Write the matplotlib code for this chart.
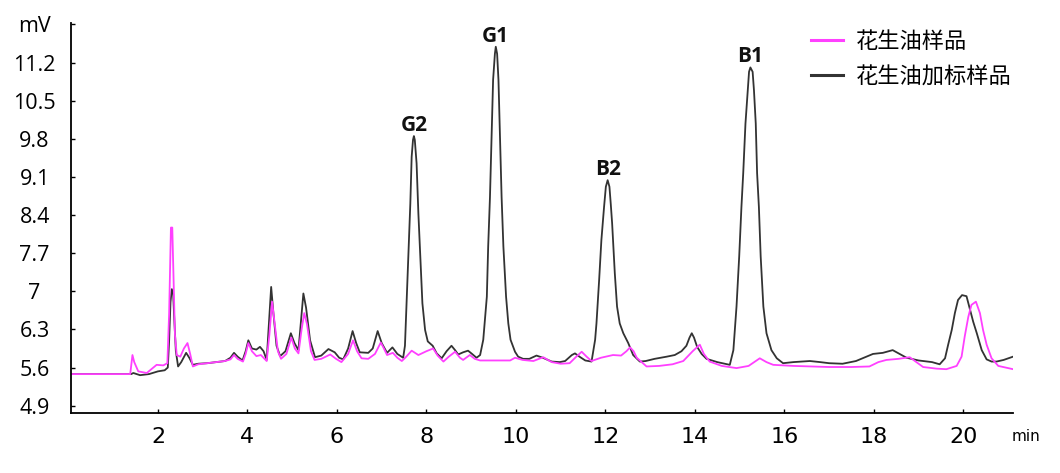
import numpy as np
import matplotlib
matplotlib.use("Agg")
import matplotlib.pyplot as plt

# retention time (min) / signal (mV)
spiked_t = [0.05, 1.40, 1.45, 1.60, 1.80, 2.00, 2.15, 2.22, 2.25, 2.28, 2.31, 2.34, 2.37, 2.40,
            2.45, 2.52, 2.63, 2.70, 2.78, 2.90, 3.10, 3.30, 3.50, 3.62, 3.70, 3.78, 3.89, 3.96,
            4.02, 4.10, 4.20, 4.28, 4.36, 4.43, 4.48, 4.53, 4.58, 4.65, 4.73, 4.85, 4.97, 5.05,
            5.14, 5.20, 5.25, 5.31, 5.40, 5.51, 5.65, 5.81, 5.95, 6.05, 6.14, 6.25, 6.35, 6.43,
            6.51, 6.70, 6.80, 6.91, 7.00, 7.12, 7.24, 7.35, 7.48, 7.52, 7.56, 7.59, 7.64, 7.67,
            7.70, 7.72, 7.74, 7.78, 7.82, 7.87, 7.91, 7.97, 8.03, 8.14, 8.23, 8.34, 8.45, 8.56,
            8.64, 8.71, 8.82, 8.93, 9.02, 9.12, 9.20, 9.27, 9.35, 9.38, 9.42, 9.46, 9.49, 9.53,
            9.55, 9.58, 9.61, 9.64, 9.68, 9.72, 9.78, 9.83, 9.88, 9.98, 10.05, 10.16, 10.30,
            10.46, 10.60, 10.80, 10.98, 11.10, 11.25, 11.32, 11.42, 11.55, 11.69, 11.77, 11.80,
            11.86, 11.91, 11.97, 12.01, 12.05, 12.09, 12.12, 12.15, 12.21, 12.26, 12.32, 12.40,
            12.51, 12.62, 12.77, 12.90, 13.10, 13.37, 13.55, 13.70, 13.81, 13.88, 13.93, 13.98,
            14.05, 14.15, 14.26, 14.50, 14.78, 14.86, 14.93, 14.99, 15.04, 15.08, 15.13, 15.18,
            15.21, 15.24, 15.29, 15.32, 15.36, 15.39, 15.43, 15.47, 15.53, 15.60, 15.71, 15.83,
            15.97, 16.20, 16.57, 16.80, 17.00, 17.30, 17.60, 17.98, 18.20, 18.42, 18.60, 18.73,
            19.00, 19.30, 19.47, 19.59, 19.66, 19.74, 19.81, 19.88, 19.97, 20.07, 20.14, 20.22,
            20.30, 20.41, 20.52, 20.63, 20.74, 20.90, 21.11]
spiked_mv = [5.48, 5.48, 5.50, 5.46, 5.48, 5.53, 5.55, 5.60, 6.10, 6.80, 7.04, 6.95, 6.40, 5.90,
             5.62, 5.70, 5.87, 5.78, 5.65, 5.67, 5.68, 5.70, 5.72, 5.78, 5.87, 5.80, 5.73, 5.90,
             6.10, 5.95, 5.93, 5.98, 5.90, 5.74, 6.40, 7.08, 6.60, 6.00, 5.81, 5.90, 6.23, 6.05,
             5.92, 6.50, 6.96, 6.70, 6.10, 5.79, 5.82, 5.94, 5.88, 5.78, 5.75, 5.95, 6.27, 6.05,
             5.88, 5.87, 5.95, 6.27, 6.05, 5.87, 5.97, 5.85, 5.78, 6.00, 6.90, 7.52, 8.61, 9.47,
             9.78, 9.85, 9.78, 9.35, 8.43, 7.51, 6.78, 6.29, 6.08, 6.00, 5.86, 5.77, 5.90, 6.00,
             5.92, 5.84, 5.88, 5.91, 5.85, 5.78, 5.83, 6.11, 6.90, 7.82, 8.73, 9.96, 10.88, 11.36,
             11.49, 11.36, 10.88, 9.96, 8.73, 7.82, 6.90, 6.41, 6.11, 5.89, 5.80, 5.76, 5.76,
             5.82, 5.78, 5.71, 5.70, 5.72, 5.83, 5.86, 5.80, 5.73, 5.71, 6.11, 6.41,
             7.21, 7.94, 8.55, 8.92, 9.04, 8.92, 8.60, 8.25, 7.33, 6.72, 6.41, 6.23,
             6.05, 5.83, 5.71, 5.72, 5.76, 5.80, 5.83, 5.90, 6.00, 6.15, 6.23, 6.15,
             5.98, 5.85, 5.76, 5.70, 5.65, 5.92, 6.72, 7.64, 8.55, 9.17, 10.08, 10.69,
             11.03, 11.11, 11.03, 10.69, 10.08, 9.17, 8.55, 7.64, 6.72, 6.23, 5.92, 5.77,
             5.68, 5.70, 5.72, 5.70, 5.68, 5.67, 5.72, 5.85, 5.87, 5.92, 5.84, 5.78,
             5.73, 5.70, 5.66, 5.77, 6.02, 6.29, 6.60, 6.84, 6.93, 6.91, 6.69, 6.44,
             6.23, 5.92, 5.75, 5.71, 5.71, 5.74, 5.80]

sample_t = [0.05, 1.38, 1.41, 1.43, 1.47, 1.56, 1.75, 1.97, 2.12, 2.21, 2.25, 2.29, 2.32, 2.35,
            2.38, 2.42, 2.50, 2.58, 2.66, 2.72, 2.78, 2.90, 3.10, 3.30, 3.50, 3.62, 3.70, 3.78,
            3.90, 3.96, 4.02, 4.10, 4.20, 4.30, 4.43, 4.49, 4.55, 4.61, 4.68, 4.75, 4.87, 4.98,
            5.06, 5.14, 5.21, 5.27, 5.33, 5.42, 5.50, 5.65, 5.85, 5.98, 6.10, 6.25, 6.36, 6.45,
            6.55, 6.70, 6.85, 6.98, 7.05, 7.12, 7.25, 7.35, 7.45, 7.55, 7.67, 7.82, 8.00, 8.15,
            8.25, 8.38, 8.50, 8.64, 8.75, 8.82, 8.97, 9.08, 9.20, 9.40, 9.60, 9.87, 9.98, 10.15,
            10.39, 10.61, 10.80, 11.00, 11.20, 11.35, 11.47, 11.58, 11.69, 11.90, 12.17, 12.35,
            12.47, 12.55, 12.63, 12.70, 12.92, 13.20, 13.50, 13.74, 13.95, 14.07, 14.11, 14.20,
            14.33, 14.60, 14.93, 15.20, 15.45, 15.60, 15.75, 16.20, 16.57, 17.00, 17.50, 17.90,
            18.10, 18.28, 18.55, 18.80, 18.95, 19.10, 19.40, 19.62, 19.85, 19.96, 20.03, 20.11,
            20.18, 20.28, 20.37, 20.44, 20.52, 20.63, 20.78, 21.11]
sample_mv = [5.48, 5.48, 5.70, 5.83, 5.70, 5.53, 5.50, 5.65, 5.64, 5.68, 6.60, 8.17, 8.17, 7.20,
             6.20, 5.83, 5.80, 5.95, 6.05, 5.85, 5.62, 5.66, 5.68, 5.70, 5.72, 5.75, 5.83, 5.76,
             5.71, 5.85, 6.05, 5.90, 5.81, 5.83, 5.72, 6.20, 6.81, 6.40, 5.90, 5.76, 5.85, 6.15,
             5.95, 5.86, 6.30, 6.60, 6.40, 5.90, 5.74, 5.76, 5.84, 5.76, 5.70, 5.85, 6.10, 5.90,
             5.77, 5.76, 5.85, 6.06, 5.95, 5.83, 5.87, 5.78, 5.72, 5.80, 5.91, 5.83, 5.90, 5.95,
             5.82, 5.71, 5.80, 5.89, 5.78, 5.74, 5.83, 5.76, 5.73, 5.73, 5.73, 5.73, 5.78, 5.74,
             5.72, 5.79, 5.70, 5.67, 5.68, 5.80, 5.89, 5.80, 5.72, 5.78, 5.83, 5.82,
             5.90, 5.97, 5.90, 5.78, 5.62, 5.63, 5.66, 5.72, 5.90, 5.99, 6.02, 5.85,
             5.71, 5.63, 5.59, 5.63, 5.77, 5.70, 5.65, 5.63, 5.62, 5.61, 5.61, 5.62,
             5.70, 5.74, 5.76, 5.79, 5.70, 5.61, 5.58, 5.57, 5.63, 5.80, 6.17, 6.53,
             6.75, 6.81, 6.60, 6.29, 6.02, 5.77, 5.63, 5.57]

peak_names = ["G2", "G1", "B2", "B1"]
peak_times = [7.72, 9.55, 12.05, 15.24]

x_ticks = [2, 4, 6, 8, 10, 12, 14, 16, 18, 20]
y_ticks = [4.9, 5.6, 6.3, 7.0, 7.7, 8.4, 9.1, 9.8, 10.5, 11.2, 11.9]
y_labels = ["4.9", "5.6", "6.3", "7", "7.7", "8.4", "9.1", "9.8", "10.5", "11.2", "mV"]

label_sample = "花生油样品"
label_spiked = "花生油加标样品"

plt.rcParams['font.family'] = ['Open Sans', 'DejaVu Sans']

fig = plt.figure(figsize=(10.6, 4.73), dpi=100)
ax = fig.add_axes([0.0667, 0.1262, 0.8890, 0.8245])

l_spk, = ax.plot(spiked_t, spiked_mv, color="#333333", linewidth=1.3)
l_smp, = ax.plot(sample_t, sample_mv, color="#ff40ff", linewidth=1.3)

# peak labels just above the apex of the spiked trace
st = np.array(spiked_t)
sv = np.array(spiked_mv)
for name, t in zip(peak_names, peak_times):
    i = int(np.argmin(np.abs(st - t)))
    ax.annotate(name, xy=(st[i], sv[i]), xytext=(0, 0), textcoords="offset points",
                ha="center", va="bottom", fontsize=15, fontweight="bold", color="#111111")

ax.set_xlim(0.05, 21.11)
ax.set_ylim(4.76, 11.92)

ax.set_xticks(x_ticks)
ax.set_xticklabels([str(v) for v in x_ticks], family=['Liberation Sans Narrow', 'DejaVu Sans'],
                   fontsize=16)
ax.set_yticks(y_ticks)
ax.set_yticklabels(y_labels, fontsize=15.5)
for lbl in ax.get_yticklabels():
    lbl.set_horizontalalignment("center")

ax.tick_params(axis="x", direction="in", length=3, width=1, pad=10)
ax.tick_params(axis="y", direction="in", length=3, width=1, pad=26)

ax.annotate("min", xy=(1, 0), xycoords="axes fraction", xytext=(9, -17), textcoords="offset points",
            ha="center", va="center", fontsize=11, family=['Liberation Sans Narrow', 'DejaVu Sans'])

for s in ["top", "right"]:
    ax.spines[s].set_visible(False)
for s in ["left", "bottom"]:
    ax.spines[s].set_linewidth(1.3)
    ax.spines[s].set_color("#000000")

leg = ax.legend([l_smp, l_spk], [label_sample, label_spiked], loc="upper left",
                bbox_to_anchor=(811 / 1060, 1 - 30 / 473), bbox_transform=fig.transFigure,
                frameon=False, borderpad=0, borderaxespad=0, handlelength=1.45,
                handletextpad=0.55, labelspacing=0.55,
                prop={'family': ['Noto Sans CJK SC', 'DejaVu Sans'], 'size': 16})
for h in leg.legend_handles:
    h.set_linewidth(2.2)

fig.savefig("out.png", dpi=100)
